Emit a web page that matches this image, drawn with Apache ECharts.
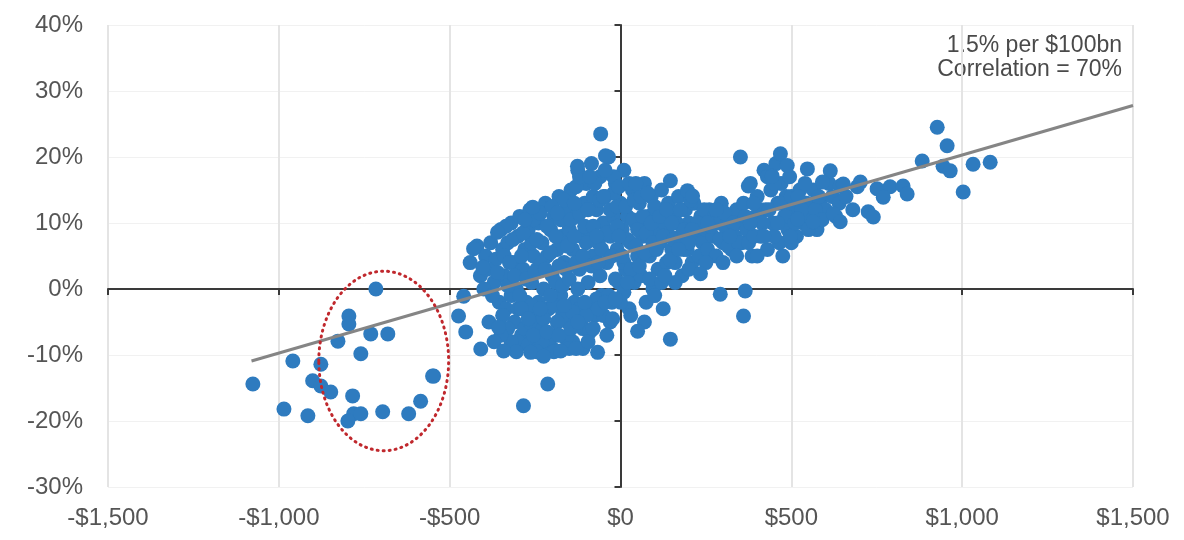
<!DOCTYPE html>
<html>
<head>
<meta charset="utf-8">
<script src="https://cdn.jsdelivr.net/npm/echarts@6/dist/echarts.min.js"></script>
<style>
html,body{margin:0;padding:0;background:#fff;}
#chart{width:1184px;height:540px;}
</style>
</head>
<body>
<div id="chart"></div>
<script>
// X: flow in $bn, Y: return in %
const xTicks = [-1500, -1000, -500, 0, 500, 1000, 1500];
const yTicks = [-30, -20, -10, 0, 10, 20, 30, 40];

// Points in the circled cluster and left tail
const leftPoints = [
  [-716, 0], [-795, -4.1], [-795, -5.3], [-827, -7.9], [-731, -6.8], [-681, -6.8],
  [-760, -9.8], [-959, -10.9], [-1076, -14.4], [-877, -11.4], [-901, -13.9], [-877, -14.7],
  [-848, -15.6], [-985, -18.2], [-915, -19.2], [-784, -16.2], [-781, -18.9], [-798, -20],
  [-760, -18.9], [-696, -18.6], [-620, -18.9], [-585, -17], [-550, -13.2]
];

// Edge / outlying points of the main cloud
const edgePoints = [
  [-430, 6.1], [-403, 3.3], [-360, 8.6], [-257, 12.4], [-58, 23.5], [-44, 20.2], [-126, 18.6],
  [-459, -1.1], [-474, -4.1], [-453, -6.5], [-409, -9.1], [-342, -9.4], [-357, -5.8],
  [-263, -9.6], [-225, -10.2], [-175, -9.4], [-213, -14.4], [-284, -17.7], [-67, -9.6],
  [-23, -4.5], [50, -6.4], [-547, -13.2], [146, -7.6], [234, 2.3], [292, -0.8], [365, -0.3],
  [360, -4.1], [351, 20], [468, 20.5], [488, 18.7], [547, 18.2], [614, 17.9], [146, 16.4],
  [196, 14.9], [211, 14.1], [374, 15.6], [444, 17.1], [591, 16.2], [643, 15.6], [693, 15.5],
  [623, 11.4], [643, 10.2], [400, 5], [497, 8], [518, 10.6], [564, 10.2],
  [927, 24.5], [956, 21.7], [883, 19.4], [944, 18.6], [965, 17.9], [1032, 18.9], [1082, 19.2],
  [1003, 14.7], [702, 16.2], [751, 15.2], [789, 15.5], [827, 15.6], [839, 14.4], [769, 13.9],
  [725, 11.7], [740, 10.9], [652, 15.9]
];

// Dense core of the cloud
const corePoints = [
  [-440, 4], [-420, 6.5], [-410, 2], [-395, 5], [-380, 7], [-370, 1], [-365, 4.5], [-355, -2], [-350, 9], [-345, 6],
  [-340, 2], [-335, -3], [-330, 7], [-320, 10], [-315, 4], [-310, -5], [-305, 0], [-300, 8], [-295, 11], [-290, -7],
  [-285, 3], [-280, 6], [-275, -2], [-270, 9], [-265, 12], [-260, 1], [-255, 5], [-250, -4], [-320, -1], [-300, -8],
  [-280, -6], [-260, 7], [-340, 5], [-270, -8.5],
  [-245, 3], [-240, 10], [-235, -6], [-230, 7], [-225, 0], [-220, 13], [-215, 5], [-210, -3], [-205, 9], [-200, 2],
  [-195, 11], [-190, -7], [-185, 6], [-180, 14], [-175, -1], [-170, 8], [-165, 4], [-160, 12], [-155, -5], [-150, 9],
  [-240, -9], [-200, -9], [-170, -4], [-230, 4], [-190, 1], [-160, 3],
  [-145, 15], [-140, 6], [-135, -2], [-130, 11], [-125, 18], [-120, 3], [-115, 8], [-110, -6], [-105, 13], [-100, 16],
  [-95, 1], [-90, 9], [-85, 19], [-80, 5], [-75, -4], [-70, 12], [-65, 7], [-60, 17], [-55, -1], [-50, 10],
  [-140, -8], [-110, -9], [-90, -3], [-130, 4], [-100, 7], [-80, 14], [-60, 2], [-120, -3],
  [-45, 14], [-40, 4], [-35, 20], [-30, 8], [-25, -2], [-20, 11], [-15, 16], [-10, 6], [-5, 1], [0, 13],
  [5, 9], [10, 18], [15, 3], [20, 11], [25, -3], [30, 7], [35, 15], [40, 1], [45, 10], [50, 5],
  [-30, -5], [0, -2], [30, -4], [10, 4], [-20, 17],
  [55, 13], [60, 2], [65, 8], [70, 16], [75, -2], [80, 11], [85, 5], [90, 14], [95, 0], [100, 9],
  [105, 12], [110, 3], [115, 7], [120, 15], [125, -3], [130, 10], [135, 4], [140, 13], [145, 8], [150, 6],
  [70, -5], [100, -1], [60, 10], [90, 6],
  [155, 11], [160, 4], [170, 14], [175, 8], [180, 2], [190, 12], [195, 6], [200, 10], [210, 4], [215, 13],
  [220, 8], [230, 5], [235, 11], [240, 7], [250, 9],
  [255, 6], [260, 12], [270, 8], [280, 5], [285, 10], [295, 13], [300, 7], [310, 9], [320, 11], [325, 6],
  [335, 8], [340, 12], [350, 10],
  [355, 7], [360, 13], [370, 9], [380, 16], [385, 5], [395, 11], [400, 14], [410, 8], [420, 18], [425, 12],
  [430, 6], [440, 15], [445, 10], [455, 19], [460, 13], [465, 7], [470, 16], [480, 11], [485, 14], [490, 9],
  [495, 17], [475, 5], [430, 17], [410, 12],
  [505, 12], [515, 8], [525, 15], [535, 10], [545, 13], [555, 11], [565, 15], [575, 9], [585, 13], [600, 12],
  [610, 16], [620, 14], [630, 11], [640, 13]
];

// More points filling the densest part of the cloud
const corePoints2 = [
  [-400, 0], [-390, 3], [-375, -1], [-360, 2.5], [-345, -4], [-330, 0.5], [-325, 4], [-310, 2], [-300, -3], [-290, 5],
  [-335, 9.5], [-315, 7.5],
  [-295, -1], [-285, 8.5], [-275, 1.5], [-265, -5], [-255, 10.5], [-250, 2.5], [-245, 7.5], [-240, -2], [-235, 11.5],
  [-225, -4.5], [-220, 3], [-215, 9.5], [-210, -7.5], [-205, 5.5], [-200, 12.5], [-260, -2.5], [-280, 10.5], [-230, -8],
  [-195, -2.5], [-190, 8], [-185, -5], [-180, 3.5], [-175, 10.5], [-170, 0.5], [-165, 13.5], [-160, -7.5], [-155, 6.5],
  [-150, 1.5], [-145, 10.5], [-140, -3.5], [-135, 8], [-130, 15.5], [-125, 0], [-120, 11.5], [-115, -5.5], [-110, 5],
  [-105, 9.5], [-100, -4], [-185, 11.5], [-150, -9], [-120, 17], [-135, 13],
  [-95, 12], [-90, -6.5], [-85, 3.5], [-80, 9.5], [-75, 16], [-70, -1.5], [-65, 4], [-60, 13.5], [-55, 6], [-50, -4],
  [-45, 18], [-40, 8.5], [-35, -1], [-30, 12], [-25, 5], [-20, 14.5], [-15, 1.5], [-10, 9.5], [-5, 15.5], [-90, 17],
  [-70, 8], [-50, 14], [-10, 12.5], [-40, -7],
  [5, 5], [10, -0.5], [15, 12.5], [20, 7.5], [25, 16], [30, 3], [35, 10.5], [40, 13.5], [45, 6.5], [50, 9],
  [55, 3.5], [60, 14], [65, 11], [70, 5.5], [75, 8.5], [80, 14.5], [85, 1.5], [90, 10], [95, 7], [100, 12.5],
  [20, 1], [45, 16], [-5, 8],
  [105, 6], [115, 11], [125, 8], [135, 12], [145, 4.5], [155, 7.5], [165, 10], [175, 12], [185, 6], [200, 7],
  [205, 13.5], [225, 10], [245, 12], [120, 1], [160, 1], [185, 9],
  [265, 9.5], [275, 11], [290, 7.5], [305, 11.5], [315, 6.5], [330, 10], [345, 7], [365, 11], [375, 7], [390, 13],
  [390, 8],
  [415, 10], [435, 12], [450, 8], [470, 13], [485, 11], [500, 14], [510, 10], [530, 12], [550, 9], [570, 12],
  [590, 10.5], [450, 16], [500, 7]
];

// Points filling the lower part of the cloud and the right-hand band
const corePoints3 = [
  [-330, -6], [-320, -8], [-305, -9.5], [-290, -3], [-270, -4.5], [-255, -7], [-245, -9.5], [-235, -3], [-215, -6.5],
  [-205, -1], [-195, -9.5], [-180, -7], [-165, -2.5], [-145, -6], [-130, -9], [-125, -5], [-105, -2], [-95, -8],
  [-80, -6], [-65, -3], [-45, -2], [-15, -1.5], [-350, -7], [-385, -5], [-370, -8],
  [150, 10], [170, 6], [210, 9], [255, 10], [280, 12], [320, 8], [340, 5], [300, 4], [200, 3], [130, 2],
  [250, 4], [380, 10], [420, 8], [460, 10], [520, 14], [540, 16], [580, 14], [660, 14], [680, 12]
];

// Regression line endpoints (1.5% per $100bn)
const trendLine = [[-1080, -10.9], [1500, 27.8]];
// Highlight ellipse: centre x, centre y, radius x, radius y (data units)
const ellipse = [[-693, -10.9, 190, 13.6]];

const annotation = ['1.5% per $100bn', 'Correlation = 70%'];

function fmtX(v) {
  const a = Math.abs(v).toLocaleString('en-US');
  return (v < 0 ? '-$' : '$') + a;
}

const chart = echarts.init(document.getElementById('chart'), null, {renderer: 'canvas'});
const labelFont = {fontFamily: 'Liberation Sans, Arial, sans-serif', fontSize: 24, color: '#555555'};

chart.setOption({
  animation: false,
  backgroundColor: '#ffffff',
  grid: {left: 108, right: 51, top: 25, bottom: 53},
  xAxis: [{
    type: 'value', min: -1500, max: 1500, interval: 500,
    axisLine: {show: true, onZero: true, onZeroAxisIndex: 0, lineStyle: {color: '#3a3a3a', width: 2}},
    axisTick: {show: true, length: 6, lineStyle: {color: '#3a3a3a', width: 2}},
    axisLabel: {show: false},
    splitLine: {show: true, lineStyle: {color: '#e4e4e4', width: 2}}
  }, {
    type: 'value', min: -1500, max: 1500, interval: 500, position: 'bottom',
    axisLine: {show: false, onZero: false},
    axisTick: {show: false},
    axisLabel: Object.assign({show: true, margin: 19, formatter: fmtX}, labelFont),
    splitLine: {show: false}
  }],
  yAxis: [{
    type: 'value', min: -30, max: 40, interval: 10,
    axisLine: {show: true, onZero: true, onZeroAxisIndex: 0, lineStyle: {color: '#3a3a3a', width: 2}},
    axisTick: {show: true, length: 6, lineStyle: {color: '#3a3a3a', width: 2}},
    axisLabel: {show: false},
    splitLine: {show: true, lineStyle: {color: '#f1f1f1', width: 1}}
  }, {
    type: 'value', min: -30, max: 40, interval: 10, position: 'left',
    axisLine: {show: false, onZero: false},
    axisTick: {show: false},
    axisLabel: Object.assign({show: true, margin: 25, formatter: v => v + '%'}, labelFont),
    splitLine: {show: false}
  }],
  series: [{
    type: 'scatter', xAxisIndex: 0, yAxisIndex: 0,
    data: corePoints.concat(corePoints2, corePoints3, edgePoints, leftPoints),
    symbolSize: 15,
    itemStyle: {color: '#2E7BBF', opacity: 1},
    z: 2
  }, {
    type: 'line', xAxisIndex: 0, yAxisIndex: 0,
    data: trendLine, symbol: 'none',
    lineStyle: {color: '#858585', width: 3},
    z: 3
  }, {
    type: 'custom', xAxisIndex: 0, yAxisIndex: 0,
    data: ellipse,
    renderItem: function (params, api) {
      const c = api.coord([api.value(0), api.value(1)]);
      const s = api.size([api.value(2), api.value(3)]);
      return {
        type: 'ellipse',
        shape: {cx: c[0], cy: c[1], rx: s[0], ry: s[1]},
        style: {fill: 'none', stroke: '#C0282D', lineWidth: 3, lineDash: [1, 5], lineCap: 'round'}
      };
    },
    z: 4
  }],
  graphic: [{
    type: 'text', right: 62, top: 34,
    style: {text: annotation[0], fill: '#4a4a4a', font: '23px "Liberation Sans", Arial, sans-serif', textAlign: 'right'}
  }, {
    type: 'text', right: 62, top: 58,
    style: {text: annotation[1], fill: '#4a4a4a', font: '23px "Liberation Sans", Arial, sans-serif', textAlign: 'right'}
  }]
});
</script>
</body>
</html>
